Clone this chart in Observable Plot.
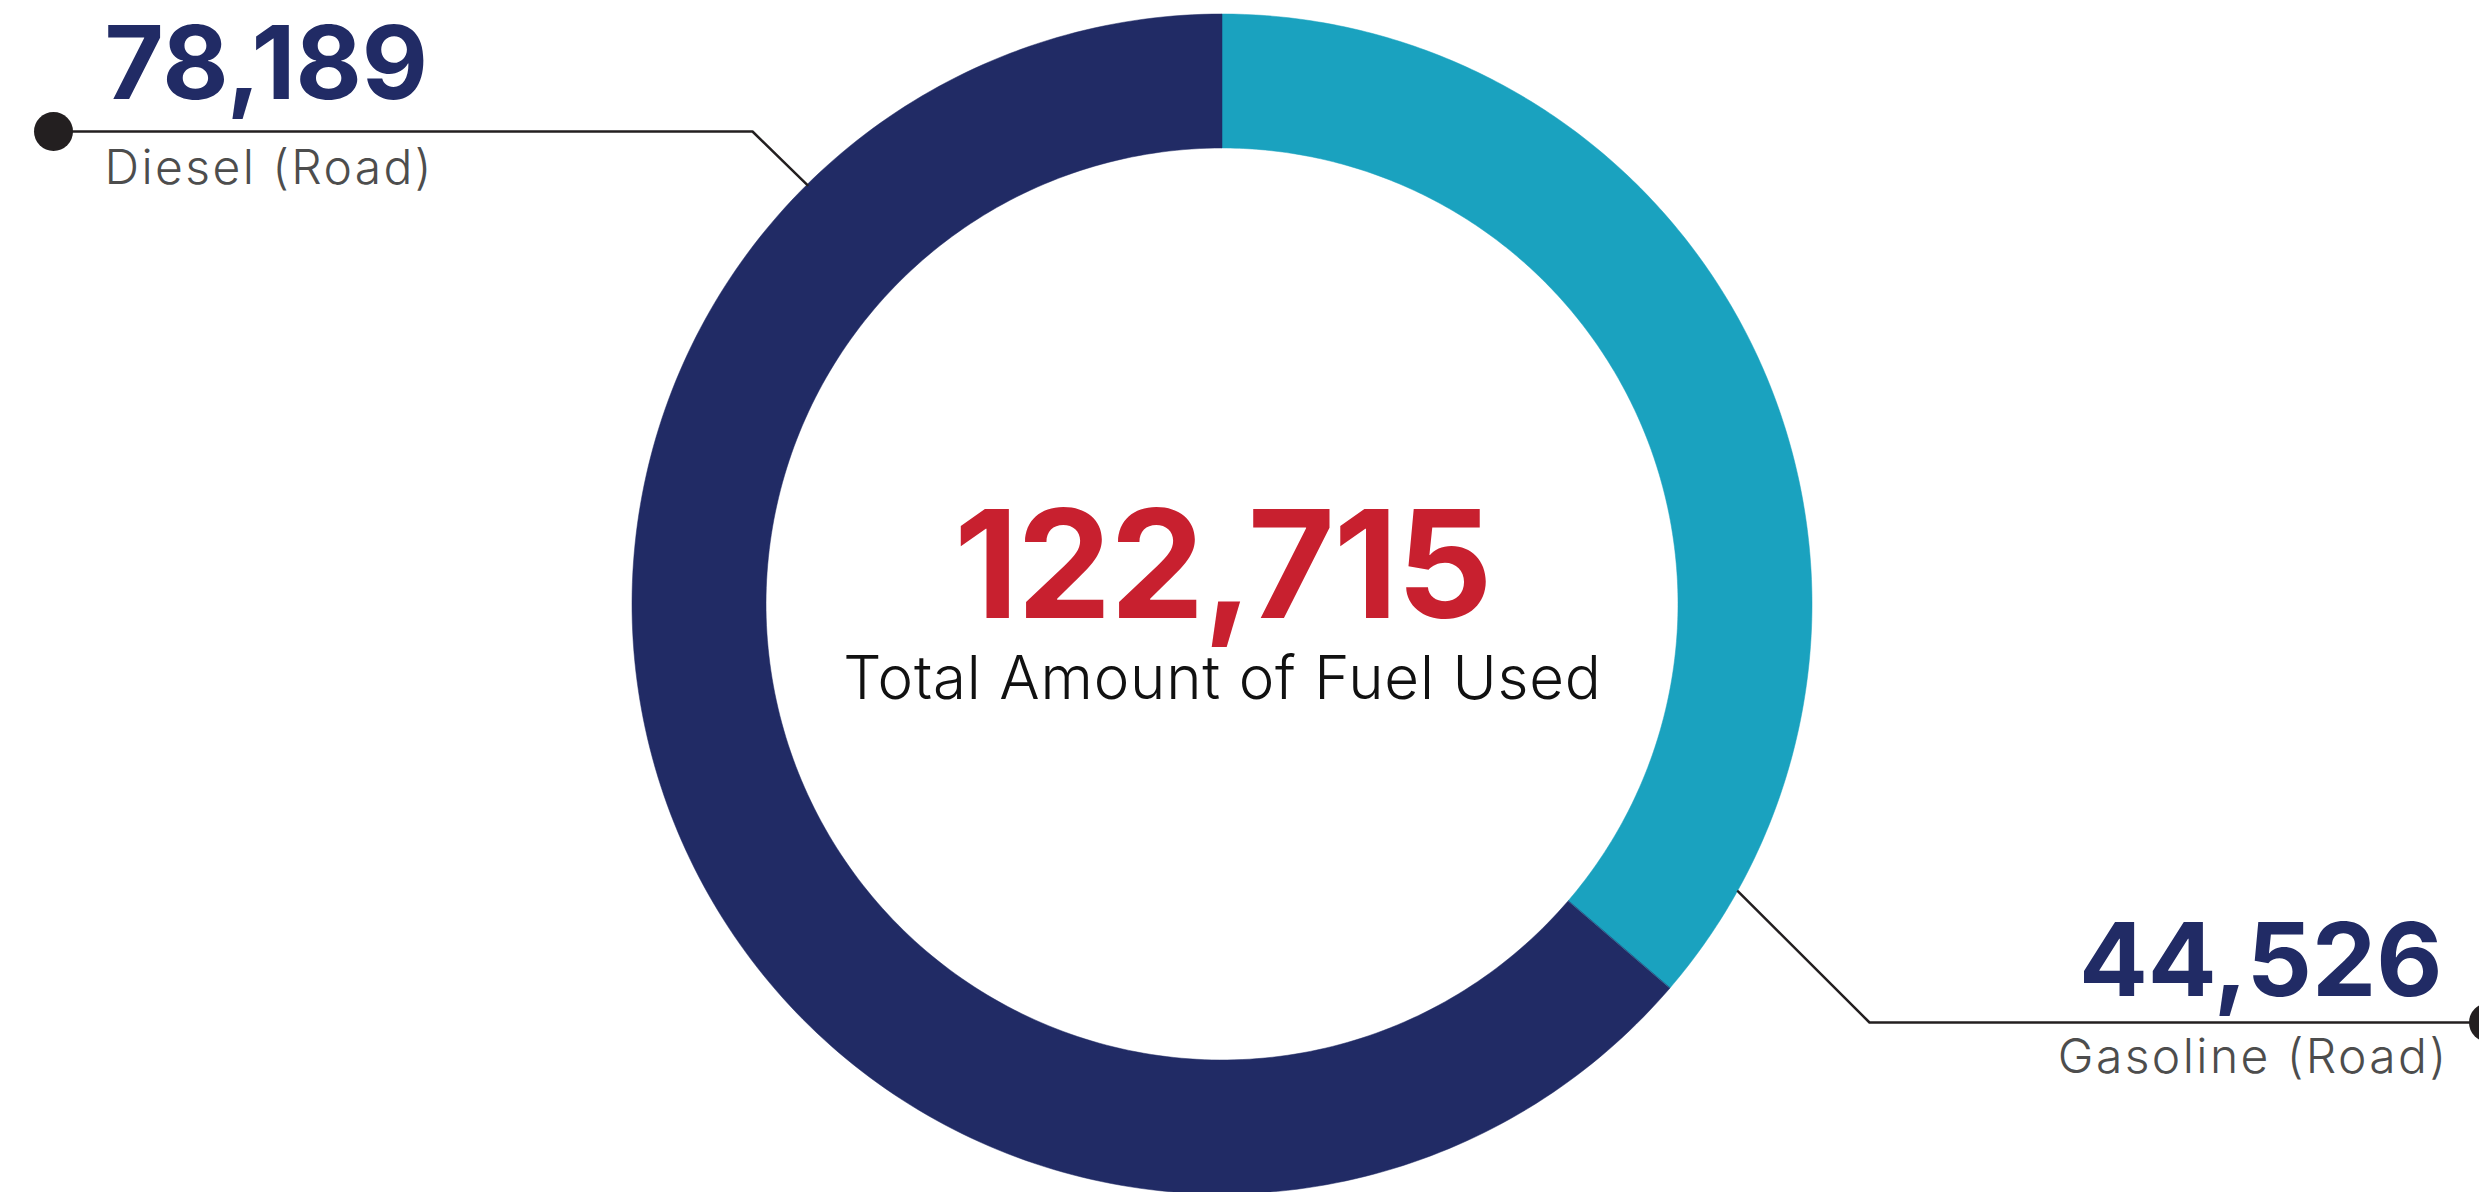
<!DOCTYPE html>
<html>
<head>
<meta charset="utf-8">
<script src="https://cdn.jsdelivr.net/npm/d3@7"></script>
<script src="https://cdn.jsdelivr.net/npm/@observablehq/plot@0.6"></script>
<style>
  html, body { margin: 0; padding: 0; background: #fff; overflow: hidden; }
  #chart svg { display: block; }
</style>
</head>
<body>
<div id="chart"></div>
<script>
// ---- data ----
const fuels = ["Gasoline (Road)", "Diesel (Road)"];
const amounts = [44526, 78189];
const totalAmount = 122715;
const totalLabel = "Total Amount of Fuel Used";

// ---- styles / layout ----
const fuelColors = ["#1AA2BF", "#212B65"];
const W = 2479, H = 1192;
const CX = 1222, CY = 604, R_OUT = 590, R_IN = 456;
const FONT = "Inter, Lato, 'Open Sans', sans-serif";
const leaderAngle = [119.1, 315.3];
const leaderElbow = [[1869, 1022], [752, 131]];
const leaderDot = [[2488, 1022], [53, 131]];
const numberPos = [[2442, 995], [104, 98]];
const namePos = [[2448, 1072], [104, 183]];
const textAnchor = ["end", "start"];

// ---- slices via d3.pie ----
const pie = d3.pie().sort(null).value(d => d)(amounts);
const ringPts = [];
pie.forEach((s, i) => {
  const n = 240;
  for (let k = 0; k <= n; k++) {
    const a = s.startAngle + (s.endAngle - s.startAngle) * k / n;
    ringPts.push({
      fuel: fuels[i],
      xo: CX + R_OUT * Math.sin(a), yo: CY - R_OUT * Math.cos(a),
      xi: CX + R_IN * Math.sin(a), yi: CY - R_IN * Math.cos(a)
    });
  }
});

const leaders = [];
fuels.forEach((f, i) => {
  const a = leaderAngle[i] * Math.PI / 180;
  leaders.push({fuel: f, x: CX + R_OUT * Math.sin(a), y: CY - R_OUT * Math.cos(a)});
  leaders.push({fuel: f, x: leaderElbow[i][0], y: leaderElbow[i][1]});
  leaders.push({fuel: f, x: leaderDot[i][0], y: leaderDot[i][1]});
});
const dots = fuels.map((f, i) => ({fuel: f, x: leaderDot[i][0], y: leaderDot[i][1]}));
const numbers = fuels.map((f, i) => ({text: d3.format(",")(amounts[i]), x: numberPos[i][0], y: numberPos[i][1], anchor: textAnchor[i]}));
const names = fuels.map((f, i) => ({text: f, x: namePos[i][0], y: namePos[i][1], anchor: textAnchor[i]}));

const textMarks = (arr, opts) => ["start", "end"].map(anc =>
  Plot.text(arr.filter(d => d.anchor === anc), {x: "x", y: "y", text: "text", textAnchor: anc, lineAnchor: "bottom", fontFamily: FONT, ...opts})
);

const chart = Plot.plot({
  width: W, height: H,
  margin: 0,
  x: {domain: [0, W], range: [0, W], axis: null},
  y: {domain: [0, H], range: [0, H], axis: null},
  color: {domain: fuels, range: fuelColors},
  style: {background: "#fff", overflow: "visible"},
  marks: [
    Plot.area(ringPts, {x1: "xo", y1: "yo", x2: "xi", y2: "yi", z: "fuel", fill: "fuel", stroke: "fuel", strokeWidth: 0.5}),
    Plot.line(leaders, {x: "x", y: "y", z: "fuel", stroke: "#231F20", strokeWidth: 2.5}),
    Plot.dot(dots, {x: "x", y: "y", r: 19.5, fill: "#231F20"}),
    ...textMarks(numbers, {fill: "#212B65", fontSize: 102, fontWeight: 700}),
    ...textMarks(names, {fill: "#4D4D4D", fontSize: 48, fontWeight: 300}),
    Plot.text([d3.format(",")(totalAmount)], {x: () => CX, y: () => 617, text: d => d, textAnchor: "middle", lineAnchor: "bottom", fill: "#C8202F", fontSize: 150, fontWeight: 700, fontFamily: FONT}),
    Plot.text([totalLabel], {x: () => CX, y: () => 698, text: d => d, textAnchor: "middle", lineAnchor: "bottom", fill: "#111", fontSize: 60, fontWeight: 300, fontFamily: FONT})
  ]
});
// letter spacing tweaks to approximate the wide geometric typeface
const spacing = {"Diesel (Road)": 2.4, "Gasoline (Road)": 2.4, "Total Amount of Fuel Used": 0.8, "122,715": -1.5};
d3.select(chart).selectAll("text").each(function() {
  const s = spacing[this.textContent];
  if (s !== undefined) this.setAttribute("letter-spacing", s);
});
document.getElementById("chart").appendChild(chart);
</script>
</body>
</html>
